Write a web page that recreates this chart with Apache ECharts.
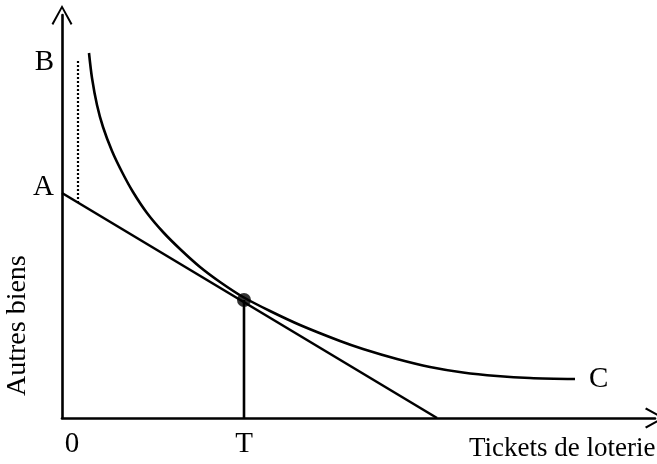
<!DOCTYPE html>
<html><head><meta charset="utf-8">
<script src="https://cdn.jsdelivr.net/npm/echarts@6/dist/echarts.min.js"></script>
<style>html,body{margin:0;padding:0;background:#fff}#c{width:657px;height:464px}</style>
</head><body><div id="c"></div>
<script>
// Indifference curve (Tickets de loterie, Autres biens)
const curveX = [27, 30, 35, 41, 50, 60, 71, 85, 101, 118, 138, 158, 181, 208, 238, 278, 301, 335, 368, 401, 435, 468, 513];
const curveY = [365, 340, 313, 291, 267, 246, 226, 205, 186, 169, 151, 136, 121, 107, 93, 77, 69, 59, 51, 45.5, 42, 40, 39];
// Budget line A -> x-intercept
const budgetX = [0, 375];
const budgetY = [225, 0];
// Optimum point T
const optX = [182];
const optY = [118];
// Dotted segment
const dotX = [16, 16];
const dotY = [215, 357];
// Tick labels
const xTickVals = [0, 182];
const xTickLabels = ['0', 'T'];
const yTickVals = [231, 356];
const yTickLabels = ['A', 'B'];

const zip = (a, b) => a.map((v, i) => [v, b[i]]);
const FONT = 'Liberation Serif';
const chevron = 'path://M10,0 L20,18 L18.4,19.2 L10,3.6 L1.6,19.2 L0,18 Z';

const chart = echarts.init(document.getElementById('c'));
chart.setOption({
  animation: false,
  grid: { left: 62, top: 15, right: 2, bottom: 46, containLabel: false },
  xAxis: {
    type: 'value', min: 0, max: 593,
    splitLine: { show: false },
    axisLine: { lineStyle: { color: '#000', width: 2.6 }, symbol: ['none', chevron], symbolSize: [22, 20], symbolOffset: [0, 0] },
    axisTick: { show: false },
    axisLabel: {
      customValues: xTickVals,
      formatter: v => { const i = xTickVals.indexOf(v); return i === 0 ? '{z|' + xTickLabels[i] + '}' : xTickLabels[i]; },
      color: '#000', fontFamily: FONT, fontSize: 29, margin: 12,
      rich: { z: { padding: [0, 0, 0, 20], fontFamily: FONT, fontSize: 29, color: '#000' } }
    }
  },
  yAxis: {
    type: 'value', min: 0, max: 403,
    splitLine: { show: false },
    axisLine: { lineStyle: { color: '#000', width: 2.6 }, symbol: ['none', chevron], symbolSize: [22, 20], symbolOffset: [0, 0] },
    axisTick: { show: false },
    axisLabel: {
      customValues: yTickVals,
      formatter: v => yTickLabels[yTickVals.indexOf(v)],
      color: '#000', fontFamily: FONT, fontSize: 29, margin: 8
    }
  },
  graphic: [
    { type: 'text', left: 469, top: 435, style: { text: 'Tickets de loterie', font: '27px "Liberation Serif"', fill: '#000' } },
    { type: 'text', x: 4, y: 396, rotation: Math.PI / 2, style: { text: 'Autres biens', font: '28px "Liberation Serif"', fill: '#000' } }
  ],
  series: [
    { type: 'line', data: zip(curveX, curveY), smooth: 0.3, showSymbol: false, lineStyle: { color: '#000', width: 2.6 },
      endLabel: { show: true, formatter: 'C', color: '#000', fontFamily: FONT, fontSize: 29, distance: 14 } },
    { type: 'line', data: zip(budgetX, budgetY), showSymbol: false, lineStyle: { color: '#000', width: 2.6 } },
    { type: 'line', data: [[optX[0], 0], [optX[0], optY[0]]], showSymbol: false, lineStyle: { color: '#000', width: 2.6 } },
    { type: 'line', data: zip(dotX, dotY), showSymbol: false, lineStyle: { color: '#000', width: 2.2, type: [2, 2] } },
    { type: 'scatter', data: zip(optX, optY), symbolSize: 14, itemStyle: { color: '#000' } }
  ]
});
</script></body></html>
